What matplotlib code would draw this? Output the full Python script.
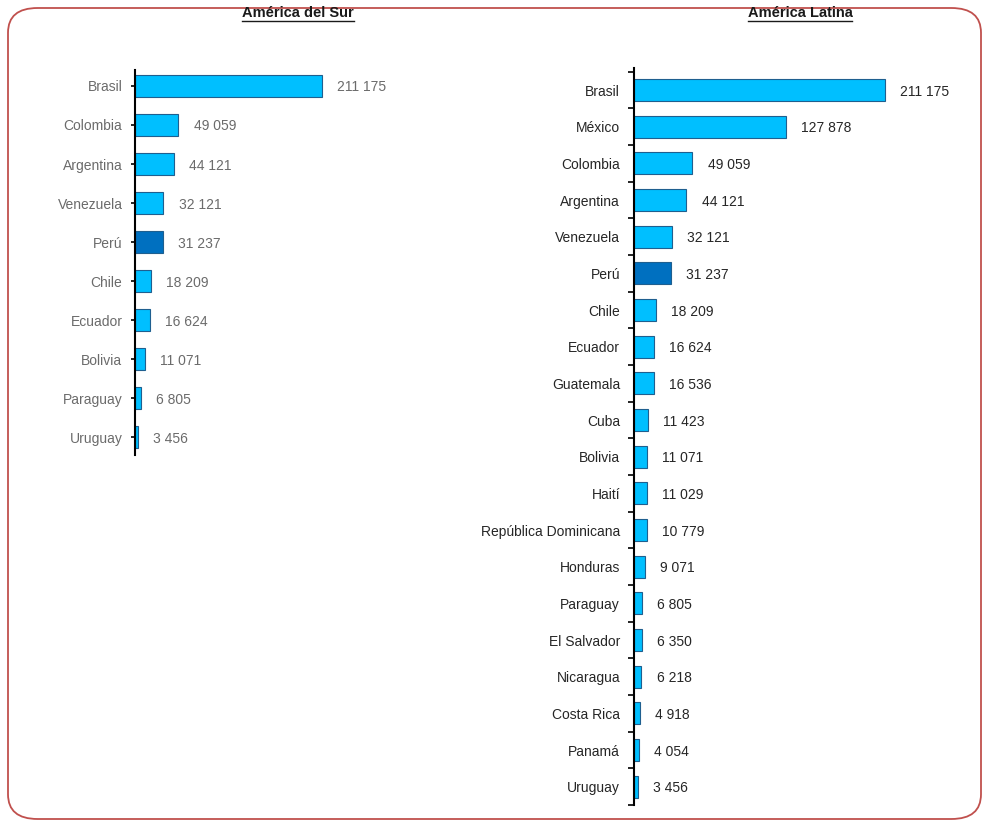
import matplotlib.pyplot as plt
from matplotlib.patches import FancyBboxPatch
from matplotlib.lines import Line2D

# Datos: poblacion (miles) - America del Sur
sur_paises = ['Brasil', 'Colombia', 'Argentina', 'Venezuela', 'Perú',
              'Chile', 'Ecuador', 'Bolivia', 'Paraguay', 'Uruguay']
sur_valores = [211175, 49059, 44121, 32121, 31237, 18209, 16624, 11071, 6805, 3456]

# Datos: America Latina
lat_paises = ['Brasil', 'México', 'Colombia', 'Argentina', 'Venezuela', 'Perú',
              'Chile', 'Ecuador', 'Guatemala', 'Cuba', 'Bolivia', 'Haití',
              'República Dominicana', 'Honduras', 'Paraguay', 'El Salvador',
              'Nicaragua', 'Costa Rica', 'Panamá', 'Uruguay']
lat_valores = [211175, 127878, 49059, 44121, 32121, 31237, 18209, 16624, 16536,
               11423, 11071, 11029, 10779, 9071, 6805, 6350, 6218, 4918, 4054, 3456]

destacado = 'Perú'

plt.rcParams['font.family'] = ['Liberation Sans Narrow', 'Liberation Sans', 'DejaVu Sans']

W, H = 987, 825
fig = plt.figure(figsize=(W / 100, H / 100), dpi=100)

# Marco redondeado rojo
marco = FancyBboxPatch((8 / W, 6 / H), (W - 14) / W, (H - 14) / H,
                       boxstyle='round,pad=0,rounding_size=0.03',
                       transform=fig.transFigure, fill=False,
                       edgecolor='#c0504d', linewidth=1.3)
fig.patches.append(marco)


def fmt(v):
    return f'{v:,}'.replace(',', ' ')


def panel(rect, paises, valores, xmax, ylim, bar_h, color_txt, ticks_centro):
    ax = fig.add_axes(rect)
    y = list(range(len(paises)))
    colores = ['#0070c0' if p == destacado else '#00bfff' for p in paises]
    ax.barh(y, valores, height=bar_h, color=colores,
            edgecolor='#1f5f8f', linewidth=0.8)
    for yi, v in zip(y, valores):
        ax.annotate(fmt(v), (v, yi), xytext=(11, 0), textcoords='offset points',
                    va='center_baseline', ha='left', fontsize=10, color=color_txt)
    ax.set_xlim(0, xmax)
    ax.set_ylim(*ylim)
    for s in ['top', 'right', 'bottom']:
        ax.spines[s].set_visible(False)
    ax.spines['left'].set_linewidth(1.5)
    ax.set_xticks([])
    if ticks_centro:
        ax.set_yticks(y)
        ax.set_yticklabels(paises, fontsize=10, color=color_txt)
        ax.tick_params(axis='y', length=3, width=1.2, pad=6)
    else:
        ax.set_yticks([i - 0.5 for i in y] + [len(y) - 0.5])
        ax.set_yticklabels([])
        ax.set_yticks(y, minor=True)
        ax.set_yticklabels(paises, minor=True, fontsize=10, color=color_txt)
        ax.tick_params(axis='y', which='major', length=4, width=1.2)
        ax.tick_params(axis='y', which='minor', length=0, pad=10)
    return ax


panel([135 / W, 1 - 455 / H, 250 / W, 385 / H], sur_paises, sur_valores,
      282300, (9.46, -0.41), 0.56, '#6b6b6b', True)
panel([634 / W, 1 - 805 / H, 300 / W, 737 / H], lat_paises, lat_valores,
      252400, (19.46, -0.6), 0.6, '#262626', False)

# Titulos subrayados
for x, txt in [(298, 'América del Sur'), (800, 'América Latina')]:
    t = fig.text(x / W, 1 - 13 / H, txt, ha='center', va='center',
                 fontsize=10.5, fontweight='bold', color='#1a1a1a')
    fig.canvas.draw()
    bb = t.get_window_extent()
    fig.add_artist(Line2D([bb.x0 / W, bb.x1 / W], [(bb.y0 - 1) / H] * 2,
                          transform=fig.transFigure, color='#1a1a1a', linewidth=1))

fig.savefig('out.png', dpi=100)
